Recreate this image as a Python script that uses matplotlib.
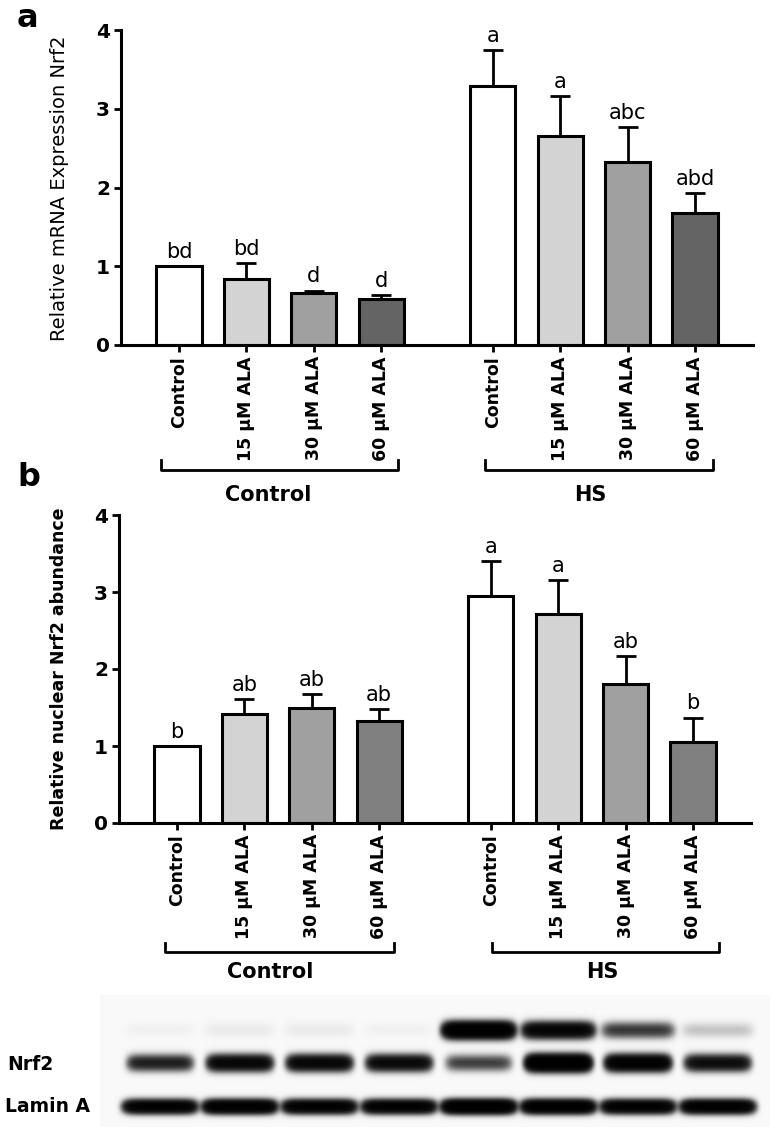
import numpy as np
import matplotlib
matplotlib.use('Agg')
import matplotlib.pyplot as plt
import matplotlib.transforms as mtransforms

plt.rcParams['font.family'] = ['DejaVu Sans']

# ---- data ------------------------------------------------------------------
groups = ['Control', 'HS']
treatments = ['Control', '15 µM ALA', '30 µM ALA', '60 µM ALA']

# a - relative mRNA expression of Nrf2
mrna_mean = [1.00, 0.84, 0.66, 0.59, 3.29, 2.66, 2.33, 1.68]
mrna_err = [0.00, 0.20, 0.03, 0.04, 0.46, 0.50, 0.44, 0.25]
mrna_letters = ['bd', 'bd', 'd', 'd', 'a', 'a', 'abc', 'abd']

# b - relative nuclear Nrf2 abundance
prot_mean = [1.00, 1.41, 1.49, 1.33, 2.95, 2.71, 1.80, 1.05]
prot_err = [0.00, 0.20, 0.18, 0.15, 0.45, 0.45, 0.37, 0.32]
prot_letters = ['b', 'ab', 'ab', 'ab', 'a', 'a', 'ab', 'b']

# western blot band intensities per lane (arbitrary density units)
nrf2_upper = [0.01, 0.02, 0.02, 0.01, 2.0, 1.3, 0.5, 0.08]
nrf2_lower = [0.7, 1.2, 1.2, 1.1, 0.45, 2.2, 1.6, 1.0]
lamin_a = [1.5, 1.7, 1.5, 1.5, 2.0, 1.8, 1.5, 1.6]

colors_a = ['white', '#d3d3d3', '#a0a0a0', '#646464']
colors_b = ['white', '#d3d3d3', '#a0a0a0', '#808080']

# ---- layout helpers ----------------------------------------------------------
GAP = 4.66
pos = [i + g * GAP for g in range(2) for i in range(4)]
W, H = 774, 1127


def px_rect(left, top, right, bottom):
    return [left / W, 1 - bottom / H, (right - left) / W, (bottom - top) / H]


def draw_panel(ax, means, errs, letters, colors, brackets, label_y):
    cols = colors * 2
    ax.errorbar(pos, means, yerr=[np.zeros(len(errs)), errs], fmt='none',
                ecolor='black', elinewidth=2.0, capsize=7, capthick=2.0, zorder=1)
    ax.bar(pos, means, width=0.67, color=cols, edgecolor='black', linewidth=2.2, zorder=2)
    for x, m, e, t in zip(pos, means, errs, letters):
        ax.annotate(t, (x, m + e), xytext=(0, 3), textcoords='offset points',
                    ha='center', va='bottom', fontsize=15)

    ax.set_xlim(-0.86, 8.52)
    ax.set_ylim(0, 4)
    ax.set_yticks([0, 1, 2, 3, 4])
    ax.set_xticks(pos)
    ax.set_xticklabels(treatments * 2, rotation=90, fontweight='bold', fontsize=12.5)
    for lbl in ax.get_yticklabels():
        lbl.set_fontweight('bold')
        lbl.set_fontsize(14.5)
    ax.tick_params(axis='both', direction='out', length=5, width=2.0, pad=3)
    ax.spines['top'].set_visible(False)
    ax.spines['right'].set_visible(False)
    ax.spines['left'].set_linewidth(2.2)
    ax.spines['bottom'].set_linewidth(2.2)

    # group brackets under the tick labels
    trans = mtransforms.blended_transform_factory(ax.transData, ax.transAxes)
    for name, (x0, x1, yb, yt, xt) in zip(groups, brackets):
        ax.plot([x0, x0, x1, x1], [yt, yb, yb, yt], color='black', lw=2.0,
                transform=trans, clip_on=False)
        ax.text(xt, label_y, name, transform=trans, ha='center', va='center',
                fontweight='bold', fontsize=15)


fig = plt.figure(figsize=(W / 100, H / 100), dpi=100)

# ---- panel a -----------------------------------------------------------------
ax_a = fig.add_axes(px_rect(121, 30, 753, 345))
draw_panel(ax_a, mrna_mean, mrna_err, mrna_letters, colors_a,
           [(-0.26, 3.25, -0.397, -0.365, 1.32), (4.54, 7.93, -0.397, -0.365, 6.1)],
           -0.475)
fig.text(60 / W, 1 - 188 / H, 'Relative mRNA Expression Nrf2', rotation=90,
         ha='center', va='center', fontsize=14)
fig.text(17 / W, 1 - 27 / H, 'a', fontsize=23, fontweight='bold', va='baseline')

# ---- panel b -----------------------------------------------------------------
ax_b = fig.add_axes(px_rect(119, 515, 751, 823))
draw_panel(ax_b, prot_mean, prot_err, prot_letters, colors_b,
           [(-0.18, 3.22, -0.419, -0.39, 1.38), (4.68, 8.05, -0.419, -0.39, 6.31)],
           -0.484)
fig.text(59 / W, 1 - 669 / H, 'Relative nuclear Nrf2 abundance', rotation=90,
         ha='center', va='center', fontsize=12.5, fontweight='bold')
fig.text(17 / W, 1 - 486 / H, 'b', fontsize=23, fontweight='bold', va='baseline')

# ---- western blot ------------------------------------------------------------
ax_w = fig.add_axes(px_rect(100, 995, 770, 1127))
xs = np.linspace(-0.75, 7.65, 670)
ys = np.linspace(0, 132, 132)
X, Y = np.meshgrid(xs, ys)
density = np.zeros_like(X)
# (values, row centre px, half width in lanes, vertical sigma px)
rows = [(nrf2_upper, 35, 0.44, 5.0), (nrf2_lower, 68, 0.40, 5.0), (lamin_a, 112, 0.45, 4.2)]
for vals, yc, half_w, sig in rows:
    for lane, v in enumerate(vals):
        prof_x = np.exp(-np.abs((X - lane) / half_w) ** 8)
        prof_y = np.exp(-0.5 * ((Y - yc) / sig) ** 2)
        density += v * prof_x * prof_y
img = 0.975 * np.exp(-3.0 * density)
ax_w.imshow(img, cmap='gray', vmin=0, vmax=1, extent=[-0.75, 7.65, 132, 0],
            aspect='auto', interpolation='bilinear')
ax_w.axis('off')

fig.text(7 / W, 1 - 1065 / H, 'Nrf2', ha='left', va='center', fontsize=13.5, fontweight='bold')
fig.text(5 / W, 1 - 1107 / H, 'Lamin A', ha='left', va='center', fontsize=13.5, fontweight='bold')

fig.savefig('out.png', dpi=100)
